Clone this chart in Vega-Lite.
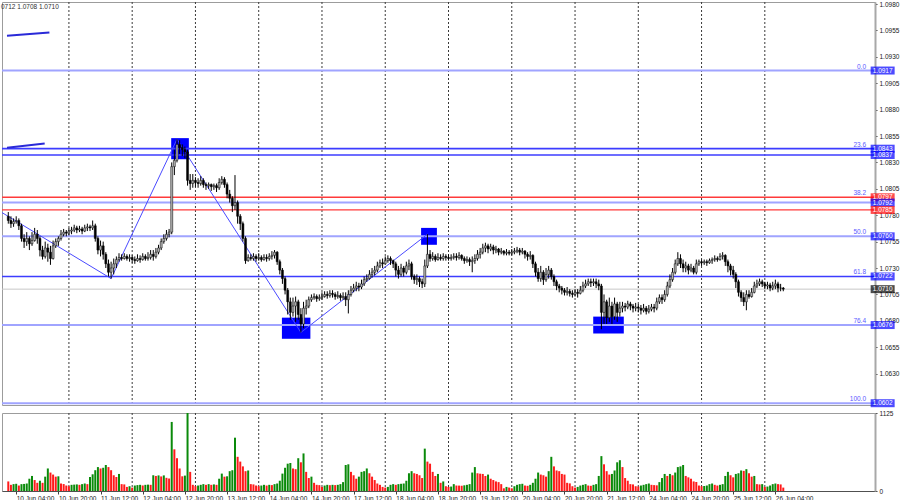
{
  "$schema": "https://vega.github.io/schema/vega-lite/v6.json",
  "padding": 0,
  "background": "white",
  "spacing": 1,
  "config": {
    "font": "Liberation Sans",
    "view": {"stroke": "#9c9c9c", "strokeWidth": 1},
    "axis": {"labelFontSize": 6.5, "labelColor": "#202020", "tickColor": "#404040", "tickSize": 2, "labelPadding": 2, "grid": false, "domainColor": "#a8a8a8", "labelOverlap": false}
  },
  "datasets": {
    "bars": [
      {"i":0,"o":1.0779,"h":1.0783,"l":1.0772,"c":1.0775,"v":138},
      {"i":1,"o":1.0775,"h":1.0779,"l":1.0768,"c":1.0772,"v":89},
      {"i":2,"o":1.0772,"h":1.0777,"l":1.0769,"c":1.0774,"v":99},
      {"i":3,"o":1.0774,"h":1.0779,"l":1.0772,"c":1.0775,"v":104},
      {"i":4,"o":1.0775,"h":1.0777,"l":1.0766,"c":1.0770,"v":79},
      {"i":5,"o":1.0770,"h":1.0772,"l":1.0755,"c":1.0758,"v":99},
      {"i":6,"o":1.0758,"h":1.0762,"l":1.0749,"c":1.0755,"v":102},
      {"i":7,"o":1.0755,"h":1.0764,"l":1.0751,"c":1.0758,"v":108},
      {"i":8,"o":1.0758,"h":1.0760,"l":1.0747,"c":1.0753,"v":177},
      {"i":9,"o":1.0753,"h":1.0764,"l":1.0751,"c":1.0756,"v":217},
      {"i":10,"o":1.0756,"h":1.0768,"l":1.0755,"c":1.0762,"v":158},
      {"i":11,"o":1.0762,"h":1.0766,"l":1.0753,"c":1.0758,"v":118},
      {"i":12,"o":1.0758,"h":1.0760,"l":1.0741,"c":1.0747,"v":148},
      {"i":13,"o":1.0747,"h":1.0751,"l":1.0738,"c":1.0741,"v":118},
      {"i":14,"o":1.0741,"h":1.0755,"l":1.0739,"c":1.0749,"v":207},
      {"i":15,"o":1.0749,"h":1.0753,"l":1.0736,"c":1.0745,"v":325},
      {"i":16,"o":1.0745,"h":1.0751,"l":1.0733,"c":1.0739,"v":266},
      {"i":17,"o":1.0739,"h":1.0756,"l":1.0738,"c":1.0751,"v":237},
      {"i":18,"o":1.0751,"h":1.0758,"l":1.0749,"c":1.0755,"v":207},
      {"i":19,"o":1.0755,"h":1.0760,"l":1.0751,"c":1.0758,"v":212},
      {"i":20,"o":1.0758,"h":1.0766,"l":1.0756,"c":1.0762,"v":108},
      {"i":21,"o":1.0762,"h":1.0767,"l":1.0760,"c":1.0764,"v":100},
      {"i":22,"o":1.0764,"h":1.0766,"l":1.0760,"c":1.0763,"v":79},
      {"i":23,"o":1.0763,"h":1.0768,"l":1.0761,"c":1.0765,"v":69},
      {"i":24,"o":1.0765,"h":1.0769,"l":1.0762,"c":1.0766,"v":89},
      {"i":25,"o":1.0766,"h":1.0771,"l":1.0764,"c":1.0768,"v":92},
      {"i":26,"o":1.0768,"h":1.0770,"l":1.0763,"c":1.0766,"v":95},
      {"i":27,"o":1.0766,"h":1.0770,"l":1.0764,"c":1.0767,"v":89},
      {"i":28,"o":1.0767,"h":1.0769,"l":1.0762,"c":1.0765,"v":99},
      {"i":29,"o":1.0765,"h":1.0771,"l":1.0764,"c":1.0768,"v":108},
      {"i":30,"o":1.0768,"h":1.0772,"l":1.0765,"c":1.0769,"v":99},
      {"i":31,"o":1.0769,"h":1.0771,"l":1.0765,"c":1.0768,"v":202},
      {"i":32,"o":1.0768,"h":1.0775,"l":1.0766,"c":1.0770,"v":241},
      {"i":33,"o":1.0770,"h":1.0772,"l":1.0755,"c":1.0758,"v":300},
      {"i":34,"o":1.0758,"h":1.0760,"l":1.0743,"c":1.0747,"v":345},
      {"i":35,"o":1.0747,"h":1.0756,"l":1.0741,"c":1.0751,"v":325},
      {"i":36,"o":1.0751,"h":1.0755,"l":1.0738,"c":1.0743,"v":335},
      {"i":37,"o":1.0743,"h":1.0745,"l":1.0730,"c":1.0734,"v":375},
      {"i":38,"o":1.0734,"h":1.0738,"l":1.0722,"c":1.0726,"v":345},
      {"i":39,"o":1.0726,"h":1.0736,"l":1.0720,"c":1.0730,"v":300},
      {"i":40,"o":1.0730,"h":1.0739,"l":1.0724,"c":1.0734,"v":227},
      {"i":41,"o":1.0734,"h":1.0741,"l":1.0730,"c":1.0738,"v":202},
      {"i":42,"o":1.0738,"h":1.0744,"l":1.0736,"c":1.0740,"v":246},
      {"i":43,"o":1.0740,"h":1.0743,"l":1.0737,"c":1.0739,"v":99},
      {"i":44,"o":1.0739,"h":1.0744,"l":1.0738,"c":1.0741,"v":95},
      {"i":45,"o":1.0741,"h":1.0743,"l":1.0737,"c":1.0739,"v":59},
      {"i":46,"o":1.0739,"h":1.0743,"l":1.0736,"c":1.0740,"v":69},
      {"i":47,"o":1.0740,"h":1.0742,"l":1.0735,"c":1.0738,"v":49},
      {"i":48,"o":1.0738,"h":1.0741,"l":1.0734,"c":1.0737,"v":79},
      {"i":49,"o":1.0737,"h":1.0743,"l":1.0736,"c":1.0739,"v":85},
      {"i":50,"o":1.0739,"h":1.0742,"l":1.0735,"c":1.0738,"v":89},
      {"i":51,"o":1.0738,"h":1.0744,"l":1.0737,"c":1.0741,"v":80},
      {"i":52,"o":1.0741,"h":1.0743,"l":1.0737,"c":1.0739,"v":89},
      {"i":53,"o":1.0739,"h":1.0745,"l":1.0737,"c":1.0740,"v":92},
      {"i":54,"o":1.0740,"h":1.0747,"l":1.0738,"c":1.0743,"v":89},
      {"i":55,"o":1.0743,"h":1.0747,"l":1.0737,"c":1.0741,"v":227},
      {"i":56,"o":1.0741,"h":1.0749,"l":1.0739,"c":1.0745,"v":217},
      {"i":57,"o":1.0745,"h":1.0752,"l":1.0743,"c":1.0749,"v":225},
      {"i":58,"o":1.0749,"h":1.0758,"l":1.0747,"c":1.0755,"v":210},
      {"i":59,"o":1.0755,"h":1.0762,"l":1.0753,"c":1.0758,"v":225},
      {"i":60,"o":1.0758,"h":1.0766,"l":1.0756,"c":1.0762,"v":190},
      {"i":61,"o":1.0762,"h":1.0767,"l":1.0759,"c":1.0764,"v":180},
      {"i":62,"o":1.0764,"h":1.0830,"l":1.0762,"c":1.0826,"v":996},
      {"i":63,"o":1.0826,"h":1.0842,"l":1.0818,"c":1.0832,"v":601},
      {"i":64,"o":1.0832,"h":1.0852,"l":1.0830,"c":1.0847,"v":473},
      {"i":65,"o":1.0847,"h":1.0851,"l":1.0838,"c":1.0844,"v":325},
      {"i":66,"o":1.0844,"h":1.0847,"l":1.0836,"c":1.0842,"v":212},
      {"i":67,"o":1.0842,"h":1.0845,"l":1.0834,"c":1.0840,"v":222},
      {"i":68,"o":1.0840,"h":1.0842,"l":1.0808,"c":1.0813,"v":1125},
      {"i":69,"o":1.0813,"h":1.0819,"l":1.0804,"c":1.0810,"v":276},
      {"i":70,"o":1.0810,"h":1.0819,"l":1.0806,"c":1.0813,"v":89},
      {"i":71,"o":1.0813,"h":1.0816,"l":1.0807,"c":1.0811,"v":69},
      {"i":72,"o":1.0811,"h":1.0815,"l":1.0806,"c":1.0810,"v":79},
      {"i":73,"o":1.0810,"h":1.0817,"l":1.0808,"c":1.0813,"v":89},
      {"i":74,"o":1.0813,"h":1.0815,"l":1.0806,"c":1.0809,"v":99},
      {"i":75,"o":1.0809,"h":1.0811,"l":1.0804,"c":1.0808,"v":89},
      {"i":76,"o":1.0808,"h":1.0811,"l":1.0805,"c":1.0809,"v":99},
      {"i":77,"o":1.0809,"h":1.0810,"l":1.0803,"c":1.0807,"v":89},
      {"i":78,"o":1.0807,"h":1.0810,"l":1.0804,"c":1.0808,"v":95},
      {"i":79,"o":1.0808,"h":1.0810,"l":1.0802,"c":1.0806,"v":89},
      {"i":80,"o":1.0806,"h":1.0815,"l":1.0804,"c":1.0811,"v":177},
      {"i":81,"o":1.0811,"h":1.0817,"l":1.0809,"c":1.0814,"v":251},
      {"i":82,"o":1.0814,"h":1.0816,"l":1.0806,"c":1.0809,"v":207},
      {"i":83,"o":1.0809,"h":1.0811,"l":1.0796,"c":1.0800,"v":212},
      {"i":84,"o":1.0800,"h":1.0804,"l":1.0792,"c":1.0796,"v":286},
      {"i":85,"o":1.0796,"h":1.0798,"l":1.0783,"c":1.0789,"v":300},
      {"i":86,"o":1.0789,"h":1.0818,"l":1.0785,"c":1.0792,"v":769},
      {"i":87,"o":1.0792,"h":1.0794,"l":1.0772,"c":1.0779,"v":493},
      {"i":88,"o":1.0779,"h":1.0781,"l":1.0766,"c":1.0772,"v":424},
      {"i":89,"o":1.0772,"h":1.0774,"l":1.0755,"c":1.0758,"v":355},
      {"i":90,"o":1.0758,"h":1.0760,"l":1.0734,"c":1.0737,"v":286},
      {"i":91,"o":1.0737,"h":1.0743,"l":1.0736,"c":1.0740,"v":296},
      {"i":92,"o":1.0740,"h":1.0743,"l":1.0737,"c":1.0739,"v":99},
      {"i":93,"o":1.0739,"h":1.0744,"l":1.0737,"c":1.0741,"v":95},
      {"i":94,"o":1.0741,"h":1.0743,"l":1.0736,"c":1.0739,"v":79},
      {"i":95,"o":1.0739,"h":1.0744,"l":1.0737,"c":1.0740,"v":69},
      {"i":96,"o":1.0740,"h":1.0742,"l":1.0736,"c":1.0738,"v":79},
      {"i":97,"o":1.0738,"h":1.0743,"l":1.0737,"c":1.0740,"v":89},
      {"i":98,"o":1.0740,"h":1.0743,"l":1.0736,"c":1.0739,"v":79},
      {"i":99,"o":1.0739,"h":1.0744,"l":1.0737,"c":1.0741,"v":89},
      {"i":100,"o":1.0741,"h":1.0746,"l":1.0738,"c":1.0742,"v":85},
      {"i":101,"o":1.0742,"h":1.0747,"l":1.0739,"c":1.0745,"v":99},
      {"i":102,"o":1.0745,"h":1.0746,"l":1.0733,"c":1.0736,"v":108},
      {"i":103,"o":1.0736,"h":1.0738,"l":1.0724,"c":1.0728,"v":148},
      {"i":104,"o":1.0728,"h":1.0730,"l":1.0715,"c":1.0720,"v":251},
      {"i":105,"o":1.0720,"h":1.0722,"l":1.0705,"c":1.0709,"v":335},
      {"i":106,"o":1.0709,"h":1.0711,"l":1.0686,"c":1.0698,"v":394},
      {"i":107,"o":1.0698,"h":1.0702,"l":1.0681,"c":1.0688,"v":404},
      {"i":108,"o":1.0688,"h":1.0702,"l":1.0684,"c":1.0694,"v":325},
      {"i":109,"o":1.0694,"h":1.0703,"l":1.0679,"c":1.0698,"v":315},
      {"i":110,"o":1.0698,"h":1.0700,"l":1.0681,"c":1.0686,"v":473},
      {"i":111,"o":1.0686,"h":1.0692,"l":1.0669,"c":1.0677,"v":414},
      {"i":112,"o":1.0677,"h":1.0698,"l":1.0673,"c":1.0692,"v":542},
      {"i":113,"o":1.0692,"h":1.0700,"l":1.0686,"c":1.0694,"v":276},
      {"i":114,"o":1.0694,"h":1.0703,"l":1.0692,"c":1.0700,"v":187},
      {"i":115,"o":1.0700,"h":1.0705,"l":1.0698,"c":1.0702,"v":207},
      {"i":116,"o":1.0702,"h":1.0706,"l":1.0700,"c":1.0703,"v":118},
      {"i":117,"o":1.0703,"h":1.0705,"l":1.0698,"c":1.0701,"v":89},
      {"i":118,"o":1.0701,"h":1.0705,"l":1.0699,"c":1.0702,"v":85},
      {"i":119,"o":1.0702,"h":1.0707,"l":1.0700,"c":1.0703,"v":59},
      {"i":120,"o":1.0703,"h":1.0708,"l":1.0702,"c":1.0705,"v":79},
      {"i":121,"o":1.0705,"h":1.0708,"l":1.0701,"c":1.0704,"v":89},
      {"i":122,"o":1.0704,"h":1.0709,"l":1.0702,"c":1.0706,"v":84},
      {"i":123,"o":1.0706,"h":1.0709,"l":1.0702,"c":1.0705,"v":89},
      {"i":124,"o":1.0705,"h":1.0707,"l":1.0700,"c":1.0703,"v":85},
      {"i":125,"o":1.0703,"h":1.0708,"l":1.0701,"c":1.0704,"v":89},
      {"i":126,"o":1.0704,"h":1.0706,"l":1.0699,"c":1.0702,"v":99},
      {"i":127,"o":1.0702,"h":1.0707,"l":1.0700,"c":1.0703,"v":128},
      {"i":128,"o":1.0703,"h":1.0707,"l":1.0694,"c":1.0700,"v":375},
      {"i":129,"o":1.0700,"h":1.0709,"l":1.0687,"c":1.0705,"v":385},
      {"i":130,"o":1.0705,"h":1.0713,"l":1.0703,"c":1.0709,"v":276},
      {"i":131,"o":1.0709,"h":1.0715,"l":1.0707,"c":1.0711,"v":227},
      {"i":132,"o":1.0711,"h":1.0717,"l":1.0708,"c":1.0713,"v":177},
      {"i":133,"o":1.0713,"h":1.0716,"l":1.0708,"c":1.0712,"v":207},
      {"i":134,"o":1.0712,"h":1.0719,"l":1.0710,"c":1.0715,"v":276},
      {"i":135,"o":1.0715,"h":1.0722,"l":1.0713,"c":1.0719,"v":286},
      {"i":136,"o":1.0719,"h":1.0724,"l":1.0717,"c":1.0720,"v":325},
      {"i":137,"o":1.0720,"h":1.0728,"l":1.0719,"c":1.0724,"v":256},
      {"i":138,"o":1.0724,"h":1.0730,"l":1.0721,"c":1.0726,"v":207},
      {"i":139,"o":1.0726,"h":1.0732,"l":1.0723,"c":1.0728,"v":158},
      {"i":140,"o":1.0728,"h":1.0736,"l":1.0726,"c":1.0732,"v":108},
      {"i":141,"o":1.0732,"h":1.0738,"l":1.0730,"c":1.0735,"v":89},
      {"i":142,"o":1.0735,"h":1.0739,"l":1.0730,"c":1.0734,"v":59},
      {"i":143,"o":1.0734,"h":1.0741,"l":1.0733,"c":1.0737,"v":49},
      {"i":144,"o":1.0737,"h":1.0742,"l":1.0735,"c":1.0739,"v":59},
      {"i":145,"o":1.0739,"h":1.0741,"l":1.0733,"c":1.0737,"v":89},
      {"i":146,"o":1.0737,"h":1.0738,"l":1.0730,"c":1.0734,"v":99},
      {"i":147,"o":1.0734,"h":1.0736,"l":1.0722,"c":1.0728,"v":89},
      {"i":148,"o":1.0728,"h":1.0732,"l":1.0720,"c":1.0724,"v":99},
      {"i":149,"o":1.0724,"h":1.0734,"l":1.0722,"c":1.0730,"v":104},
      {"i":150,"o":1.0730,"h":1.0732,"l":1.0722,"c":1.0726,"v":108},
      {"i":151,"o":1.0726,"h":1.0736,"l":1.0724,"c":1.0732,"v":148},
      {"i":152,"o":1.0732,"h":1.0738,"l":1.0728,"c":1.0734,"v":256},
      {"i":153,"o":1.0734,"h":1.0736,"l":1.0719,"c":1.0722,"v":286},
      {"i":154,"o":1.0722,"h":1.0724,"l":1.0715,"c":1.0719,"v":256},
      {"i":155,"o":1.0719,"h":1.0724,"l":1.0714,"c":1.0720,"v":246},
      {"i":156,"o":1.0720,"h":1.0722,"l":1.0712,"c":1.0717,"v":227},
      {"i":157,"o":1.0717,"h":1.0720,"l":1.0711,"c":1.0715,"v":187},
      {"i":158,"o":1.0715,"h":1.0738,"l":1.0712,"c":1.0732,"v":611},
      {"i":159,"o":1.0732,"h":1.0762,"l":1.0730,"c":1.0743,"v":424},
      {"i":160,"o":1.0743,"h":1.0747,"l":1.0736,"c":1.0739,"v":394},
      {"i":161,"o":1.0739,"h":1.0745,"l":1.0737,"c":1.0741,"v":276},
      {"i":162,"o":1.0741,"h":1.0743,"l":1.0736,"c":1.0738,"v":217},
      {"i":163,"o":1.0738,"h":1.0744,"l":1.0737,"c":1.0740,"v":246},
      {"i":164,"o":1.0740,"h":1.0743,"l":1.0737,"c":1.0739,"v":118},
      {"i":165,"o":1.0739,"h":1.0744,"l":1.0737,"c":1.0741,"v":138},
      {"i":166,"o":1.0741,"h":1.0743,"l":1.0737,"c":1.0740,"v":69},
      {"i":167,"o":1.0740,"h":1.0743,"l":1.0737,"c":1.0739,"v":59},
      {"i":168,"o":1.0739,"h":1.0743,"l":1.0737,"c":1.0740,"v":64},
      {"i":169,"o":1.0740,"h":1.0744,"l":1.0738,"c":1.0741,"v":99},
      {"i":170,"o":1.0741,"h":1.0744,"l":1.0737,"c":1.0740,"v":79},
      {"i":171,"o":1.0740,"h":1.0745,"l":1.0738,"c":1.0742,"v":78},
      {"i":172,"o":1.0742,"h":1.0743,"l":1.0737,"c":1.0739,"v":76},
      {"i":173,"o":1.0739,"h":1.0741,"l":1.0734,"c":1.0737,"v":82},
      {"i":174,"o":1.0737,"h":1.0741,"l":1.0735,"c":1.0738,"v":89},
      {"i":175,"o":1.0738,"h":1.0740,"l":1.0732,"c":1.0736,"v":99},
      {"i":176,"o":1.0736,"h":1.0741,"l":1.0726,"c":1.0737,"v":266},
      {"i":177,"o":1.0737,"h":1.0743,"l":1.0734,"c":1.0739,"v":345},
      {"i":178,"o":1.0739,"h":1.0747,"l":1.0737,"c":1.0743,"v":256},
      {"i":179,"o":1.0743,"h":1.0749,"l":1.0739,"c":1.0745,"v":250},
      {"i":180,"o":1.0745,"h":1.0753,"l":1.0743,"c":1.0749,"v":246},
      {"i":181,"o":1.0749,"h":1.0754,"l":1.0745,"c":1.0751,"v":217},
      {"i":182,"o":1.0751,"h":1.0753,"l":1.0744,"c":1.0748,"v":237},
      {"i":183,"o":1.0748,"h":1.0753,"l":1.0746,"c":1.0750,"v":177},
      {"i":184,"o":1.0750,"h":1.0752,"l":1.0743,"c":1.0747,"v":158},
      {"i":185,"o":1.0747,"h":1.0751,"l":1.0744,"c":1.0748,"v":138},
      {"i":186,"o":1.0748,"h":1.0749,"l":1.0742,"c":1.0745,"v":128},
      {"i":187,"o":1.0745,"h":1.0749,"l":1.0743,"c":1.0746,"v":99},
      {"i":188,"o":1.0746,"h":1.0747,"l":1.0742,"c":1.0744,"v":39},
      {"i":189,"o":1.0744,"h":1.0748,"l":1.0742,"c":1.0745,"v":59},
      {"i":190,"o":1.0745,"h":1.0747,"l":1.0742,"c":1.0744,"v":49},
      {"i":191,"o":1.0744,"h":1.0748,"l":1.0742,"c":1.0745,"v":39},
      {"i":192,"o":1.0745,"h":1.0749,"l":1.0743,"c":1.0746,"v":69},
      {"i":193,"o":1.0746,"h":1.0750,"l":1.0744,"c":1.0747,"v":89},
      {"i":194,"o":1.0747,"h":1.0749,"l":1.0742,"c":1.0745,"v":99},
      {"i":195,"o":1.0745,"h":1.0749,"l":1.0743,"c":1.0746,"v":104},
      {"i":196,"o":1.0746,"h":1.0747,"l":1.0739,"c":1.0743,"v":79},
      {"i":197,"o":1.0743,"h":1.0745,"l":1.0737,"c":1.0741,"v":75},
      {"i":198,"o":1.0741,"h":1.0746,"l":1.0738,"c":1.0742,"v":89},
      {"i":199,"o":1.0742,"h":1.0743,"l":1.0730,"c":1.0734,"v":118},
      {"i":200,"o":1.0734,"h":1.0736,"l":1.0722,"c":1.0726,"v":177},
      {"i":201,"o":1.0726,"h":1.0730,"l":1.0717,"c":1.0720,"v":266},
      {"i":202,"o":1.0720,"h":1.0732,"l":1.0717,"c":1.0726,"v":237},
      {"i":203,"o":1.0726,"h":1.0728,"l":1.0714,"c":1.0719,"v":227},
      {"i":204,"o":1.0719,"h":1.0730,"l":1.0717,"c":1.0724,"v":207},
      {"i":205,"o":1.0724,"h":1.0732,"l":1.0720,"c":1.0728,"v":286},
      {"i":206,"o":1.0728,"h":1.0730,"l":1.0719,"c":1.0722,"v":493},
      {"i":207,"o":1.0722,"h":1.0724,"l":1.0713,"c":1.0717,"v":355},
      {"i":208,"o":1.0717,"h":1.0719,"l":1.0709,"c":1.0713,"v":296},
      {"i":209,"o":1.0713,"h":1.0715,"l":1.0707,"c":1.0711,"v":286},
      {"i":210,"o":1.0711,"h":1.0713,"l":1.0705,"c":1.0709,"v":246},
      {"i":211,"o":1.0709,"h":1.0711,"l":1.0704,"c":1.0707,"v":237},
      {"i":212,"o":1.0707,"h":1.0712,"l":1.0704,"c":1.0708,"v":118},
      {"i":213,"o":1.0708,"h":1.0710,"l":1.0703,"c":1.0706,"v":110},
      {"i":214,"o":1.0706,"h":1.0709,"l":1.0702,"c":1.0705,"v":69},
      {"i":215,"o":1.0705,"h":1.0710,"l":1.0703,"c":1.0707,"v":49},
      {"i":216,"o":1.0707,"h":1.0710,"l":1.0702,"c":1.0706,"v":59},
      {"i":217,"o":1.0706,"h":1.0713,"l":1.0705,"c":1.0709,"v":79},
      {"i":218,"o":1.0709,"h":1.0717,"l":1.0707,"c":1.0713,"v":89},
      {"i":219,"o":1.0713,"h":1.0719,"l":1.0711,"c":1.0715,"v":99},
      {"i":220,"o":1.0715,"h":1.0720,"l":1.0713,"c":1.0717,"v":79},
      {"i":221,"o":1.0717,"h":1.0720,"l":1.0712,"c":1.0716,"v":75},
      {"i":222,"o":1.0716,"h":1.0720,"l":1.0713,"c":1.0717,"v":89},
      {"i":223,"o":1.0717,"h":1.0720,"l":1.0711,"c":1.0715,"v":99},
      {"i":224,"o":1.0715,"h":1.0719,"l":1.0709,"c":1.0713,"v":217},
      {"i":225,"o":1.0713,"h":1.0715,"l":1.0672,"c":1.0688,"v":503},
      {"i":226,"o":1.0688,"h":1.0705,"l":1.0677,"c":1.0698,"v":385},
      {"i":227,"o":1.0698,"h":1.0700,"l":1.0677,"c":1.0683,"v":286},
      {"i":228,"o":1.0683,"h":1.0702,"l":1.0679,"c":1.0694,"v":237},
      {"i":229,"o":1.0694,"h":1.0698,"l":1.0677,"c":1.0684,"v":246},
      {"i":230,"o":1.0684,"h":1.0702,"l":1.0681,"c":1.0696,"v":296},
      {"i":231,"o":1.0696,"h":1.0698,"l":1.0679,"c":1.0688,"v":414},
      {"i":232,"o":1.0688,"h":1.0698,"l":1.0684,"c":1.0692,"v":444},
      {"i":233,"o":1.0692,"h":1.0698,"l":1.0688,"c":1.0694,"v":345},
      {"i":234,"o":1.0694,"h":1.0697,"l":1.0689,"c":1.0693,"v":187},
      {"i":235,"o":1.0693,"h":1.0699,"l":1.0691,"c":1.0696,"v":148},
      {"i":236,"o":1.0696,"h":1.0698,"l":1.0690,"c":1.0694,"v":99},
      {"i":237,"o":1.0694,"h":1.0696,"l":1.0688,"c":1.0692,"v":95},
      {"i":238,"o":1.0692,"h":1.0697,"l":1.0689,"c":1.0693,"v":69},
      {"i":239,"o":1.0693,"h":1.0696,"l":1.0688,"c":1.0692,"v":65},
      {"i":240,"o":1.0692,"h":1.0695,"l":1.0686,"c":1.0690,"v":79},
      {"i":241,"o":1.0690,"h":1.0696,"l":1.0688,"c":1.0692,"v":89},
      {"i":242,"o":1.0692,"h":1.0694,"l":1.0686,"c":1.0689,"v":99},
      {"i":243,"o":1.0689,"h":1.0695,"l":1.0687,"c":1.0691,"v":108},
      {"i":244,"o":1.0691,"h":1.0696,"l":1.0689,"c":1.0693,"v":89},
      {"i":245,"o":1.0693,"h":1.0696,"l":1.0688,"c":1.0692,"v":85},
      {"i":246,"o":1.0692,"h":1.0702,"l":1.0690,"c":1.0698,"v":82},
      {"i":247,"o":1.0698,"h":1.0705,"l":1.0696,"c":1.0702,"v":128},
      {"i":248,"o":1.0702,"h":1.0705,"l":1.0696,"c":1.0700,"v":187},
      {"i":249,"o":1.0700,"h":1.0709,"l":1.0698,"c":1.0705,"v":246},
      {"i":250,"o":1.0705,"h":1.0717,"l":1.0703,"c":1.0713,"v":217},
      {"i":251,"o":1.0713,"h":1.0724,"l":1.0711,"c":1.0719,"v":246},
      {"i":252,"o":1.0719,"h":1.0730,"l":1.0717,"c":1.0726,"v":227},
      {"i":253,"o":1.0726,"h":1.0738,"l":1.0724,"c":1.0734,"v":266},
      {"i":254,"o":1.0734,"h":1.0745,"l":1.0732,"c":1.0739,"v":345},
      {"i":255,"o":1.0739,"h":1.0743,"l":1.0730,"c":1.0734,"v":355},
      {"i":256,"o":1.0734,"h":1.0738,"l":1.0726,"c":1.0730,"v":375},
      {"i":257,"o":1.0730,"h":1.0736,"l":1.0726,"c":1.0732,"v":217},
      {"i":258,"o":1.0732,"h":1.0734,"l":1.0724,"c":1.0728,"v":197},
      {"i":259,"o":1.0728,"h":1.0734,"l":1.0726,"c":1.0730,"v":177},
      {"i":260,"o":1.0730,"h":1.0732,"l":1.0724,"c":1.0726,"v":138},
      {"i":261,"o":1.0726,"h":1.0738,"l":1.0724,"c":1.0734,"v":130},
      {"i":262,"o":1.0734,"h":1.0738,"l":1.0732,"c":1.0736,"v":79},
      {"i":263,"o":1.0736,"h":1.0738,"l":1.0732,"c":1.0735,"v":69},
      {"i":264,"o":1.0735,"h":1.0738,"l":1.0733,"c":1.0736,"v":72},
      {"i":265,"o":1.0736,"h":1.0738,"l":1.0732,"c":1.0735,"v":79},
      {"i":266,"o":1.0735,"h":1.0739,"l":1.0734,"c":1.0737,"v":99},
      {"i":267,"o":1.0737,"h":1.0740,"l":1.0734,"c":1.0738,"v":108},
      {"i":268,"o":1.0738,"h":1.0742,"l":1.0736,"c":1.0739,"v":89},
      {"i":269,"o":1.0739,"h":1.0741,"l":1.0736,"c":1.0738,"v":79},
      {"i":270,"o":1.0738,"h":1.0744,"l":1.0737,"c":1.0741,"v":89},
      {"i":271,"o":1.0741,"h":1.0745,"l":1.0738,"c":1.0742,"v":99},
      {"i":272,"o":1.0742,"h":1.0743,"l":1.0732,"c":1.0736,"v":217},
      {"i":273,"o":1.0736,"h":1.0738,"l":1.0726,"c":1.0732,"v":276},
      {"i":274,"o":1.0732,"h":1.0734,"l":1.0723,"c":1.0728,"v":227},
      {"i":275,"o":1.0728,"h":1.0732,"l":1.0720,"c":1.0724,"v":197},
      {"i":276,"o":1.0724,"h":1.0726,"l":1.0711,"c":1.0717,"v":246},
      {"i":277,"o":1.0717,"h":1.0719,"l":1.0703,"c":1.0707,"v":256},
      {"i":278,"o":1.0707,"h":1.0709,"l":1.0698,"c":1.0702,"v":296},
      {"i":279,"o":1.0702,"h":1.0707,"l":1.0694,"c":1.0698,"v":290},
      {"i":280,"o":1.0698,"h":1.0709,"l":1.0690,"c":1.0705,"v":315},
      {"i":281,"o":1.0705,"h":1.0709,"l":1.0701,"c":1.0703,"v":256},
      {"i":282,"o":1.0703,"h":1.0711,"l":1.0702,"c":1.0707,"v":207},
      {"i":283,"o":1.0707,"h":1.0717,"l":1.0706,"c":1.0713,"v":217},
      {"i":284,"o":1.0713,"h":1.0719,"l":1.0711,"c":1.0715,"v":99},
      {"i":285,"o":1.0715,"h":1.0720,"l":1.0713,"c":1.0717,"v":95},
      {"i":286,"o":1.0717,"h":1.0719,"l":1.0712,"c":1.0715,"v":99},
      {"i":287,"o":1.0715,"h":1.0717,"l":1.0710,"c":1.0713,"v":59},
      {"i":288,"o":1.0713,"h":1.0717,"l":1.0710,"c":1.0714,"v":64},
      {"i":289,"o":1.0714,"h":1.0716,"l":1.0708,"c":1.0711,"v":79},
      {"i":290,"o":1.0711,"h":1.0717,"l":1.0709,"c":1.0713,"v":99},
      {"i":291,"o":1.0713,"h":1.0719,"l":1.0710,"c":1.0715,"v":108},
      {"i":292,"o":1.0715,"h":1.0717,"l":1.0707,"c":1.0711,"v":99},
      {"i":293,"o":1.0711,"h":1.0715,"l":1.0708,"c":1.0711,"v":95},
      {"i":294,"o":1.0711,"h":1.0712,"l":1.0708,"c":1.0710,"v":49}
    ],
    "days": [{"g":23},{"g":47},{"g":71},{"g":95},{"g":119},{"g":143},{"g":167},{"g":191},{"g":215},{"g":239},{"g":263},{"g":287}],
    "levels": [
      {"p":1.0917,"k":"fib","f":"0.0"},
      {"p":1.0843,"k":"blue","f":"23.6"},
      {"p":1.0837,"k":"blue"},
      {"p":1.0797,"k":"red","f":"38.2"},
      {"p":1.0792,"k":"fib"},
      {"p":1.0785,"k":"red"},
      {"p":1.0760,"k":"fib","f":"50.0"},
      {"p":1.0722,"k":"blue","f":"61.8"},
      {"p":1.0710,"k":"bid"},
      {"p":1.0676,"k":"fib","f":"76.4"},
      {"p":1.0602,"k":"fib","f":"100.0"}
    ],
    "zig": [
      {"i":-10,"p":1.0794},
      {"i":39,"p":1.0720},
      {"i":64,"p":1.0852},
      {"i":111,"p":1.0669},
      {"i":159,"p":1.0762}
    ],
    "segs": [
      {"s":"a","i":-0.49,"p":1.0950},
      {"s":"a","i":15.6,"p":1.0953},
      {"s":"b","i":-0.49,"p":1.0844},
      {"s":"b","i":13.8,"p":1.0848}
    ],
    "zones": [
      {"x1":61.8,"x2":68.5,"p1":1.0853,"p2":1.0833},
      {"x1":103.8,"x2":114.6,"p1":1.0683,"p2":1.0663},
      {"x1":156.6,"x2":162.6,"p1":1.0768,"p2":1.0752},
      {"x1":221.9,"x2":233.5,"p1":1.0684,"p2":1.0668}
    ]
  },
  "vconcat": [
    {
      "width": 873,
      "height": 403,
      "title": {"text": "0712 1.0708 1.0710", "anchor": "start", "offset": -9, "fontSize": 6.5, "fontWeight": "normal", "color": "#303030", "font": "Liberation Sans"},
      "resolve": {"scale": {"color": "independent", "strokeWidth": "independent"}},
      "layer": [
        {
          "data": {"name": "days"},
          "mark": {"type": "rule", "color": "#3a3a3a", "strokeDash": [2, 2], "strokeWidth": 1},
          "encoding": {
            "x": {"field": "g", "type": "quantitative", "scale": {"domain": [-0.49, 326.9], "nice": false, "zero": false}, "axis": null}
          }
        },
        {
          "data": {"name": "zones"},
          "mark": {"type": "rect", "color": "#0000ff"},
          "encoding": {
            "x": {"field": "x1", "type": "quantitative"},
            "x2": {"field": "x2"},
            "y": {"field": "p1", "type": "quantitative", "scale": {"domain": [1.06003, 1.09819], "nice": false, "zero": false},
              "axis": {"orient": "right", "title": null, "values": [1.098, 1.0955, 1.093, 1.0905, 1.088, 1.0855, 1.083, 1.0805, 1.078, 1.0755, 1.073, 1.0705, 1.068, 1.0655, 1.063], "tickCount": 40, "format": ".4f", "domainWidth": 2, "labelOverlap": false, "labelFlush": false}},
            "y2": {"field": "p2"}
          }
        },
        {
          "data": {"name": "levels"},
          "mark": {"type": "rule"},
          "encoding": {
            "y": {"field": "p", "type": "quantitative"},
            "color": {"field": "k", "type": "nominal", "legend": null, "scale": {"domain": ["fib", "blue", "red", "bid"], "range": ["#a0a4ff", "#3c3cff", "#ff3a3a", "#c8c8c8"]}},
            "strokeWidth": {"field": "k", "type": "nominal", "legend": null, "scale": {"domain": ["fib", "blue", "red", "bid"], "range": [2, 1, 1, 1]}}
          }
        },
        {
          "data": {"name": "segs"},
          "mark": {"type": "line", "color": "#2a2ad8", "strokeWidth": 2, "clip": true},
          "encoding": {
            "x": {"field": "i", "type": "quantitative"},
            "y": {"field": "p", "type": "quantitative"},
            "detail": {"field": "s"}
          }
        },
        {
          "data": {"name": "zig"},
          "mark": {"type": "line", "color": "#4a4aff", "strokeWidth": 1, "clip": true},
          "encoding": {
            "x": {"field": "i", "type": "quantitative"},
            "y": {"field": "p", "type": "quantitative"},
            "order": {"field": "i"}
          }
        },
        {
          "data": {"name": "bars"},
          "mark": {"type": "rule", "strokeWidth": 1, "color": "#000000"},
          "encoding": {
            "x": {"field": "i", "type": "quantitative"},
            "y": {"field": "l", "type": "quantitative"},
            "y2": {"field": "h"}
          }
        },
        {
          "data": {"name": "bars"},
          "mark": {"type": "bar", "size": 2, "stroke": "#000000", "strokeWidth": 0.5},
          "encoding": {
            "x": {"field": "i", "type": "quantitative"},
            "y": {"field": "o", "type": "quantitative"},
            "y2": {"field": "c"},
            "color": {"condition": {"test": "datum.c >= datum.o", "value": "#b4b4b4"}, "value": "#000000"}
          }
        },
        {
          "data": {"name": "levels"},
          "transform": [{"filter": "datum.f"}],
          "mark": {"type": "text", "align": "right", "baseline": "alphabetic", "dy": -2, "fontSize": 6.5, "color": "#5a5aff"},
          "encoding": {
            "x": {"datum": 325.4},
            "y": {"field": "p", "type": "quantitative"},
            "text": {"field": "f"}
          }
        },
        {
          "data": {"name": "levels"},
          "mark": {"type": "tick", "orient": "horizontal", "thickness": 8, "size": 24},
          "encoding": {
            "x": {"datum": 331.7},
            "y": {"field": "p", "type": "quantitative"},
            "color": {"field": "k", "type": "nominal", "legend": null, "scale": {"domain": ["fib", "blue", "red", "bid"], "range": ["#0000ff", "#0000ff", "#ff0000", "#000000"]}}
          }
        },
        {
          "data": {"name": "levels"},
          "mark": {"type": "text", "align": "center", "baseline": "middle", "fontSize": 6.5, "color": "#ffffff"},
          "encoding": {
            "x": {"datum": 331.7},
            "y": {"field": "p", "type": "quantitative"},
            "text": {"field": "p", "type": "quantitative", "format": ".4f"}
          }
        }
      ]
    },
    {
      "width": 873,
      "height": 78,
      "layer": [
        {
          "data": {"name": "days"},
          "mark": {"type": "rule", "color": "#3a3a3a", "strokeDash": [2, 2], "strokeWidth": 1},
          "encoding": {
            "x": {"field": "g", "type": "quantitative", "scale": {"domain": [-0.49, 326.9], "nice": false, "zero": false},
              "axis": {"orient": "bottom", "title": null, "values": [3, 19, 35, 51, 67, 83, 99, 115, 131, 147, 163, 179, 195, 211, 227, 243, 259, 275, 291], "tickCount": 40,
                "labelExpr": "['10 Jun 04:00','10 Jun 20:00','11 Jun 12:00','12 Jun 04:00','12 Jun 20:00','13 Jun 12:00','14 Jun 04:00','14 Jun 20:00','17 Jun 12:00','18 Jun 04:00','18 Jun 20:00','19 Jun 12:00','20 Jun 04:00','20 Jun 20:00','21 Jun 12:00','24 Jun 04:00','24 Jun 20:00','25 Jun 12:00','26 Jun 04:00'][(datum.value-3)/16]",
                "labelAlign": "left", "labelFlush": false, "labelOverlap": false, "tickSize": 3, "labelPadding": 1, "domainColor": "#505050"}}
          }
        },
        {
          "data": {"name": "bars"},
          "transform": [{"window": [{"op": "lag", "field": "v", "as": "pv"}], "sort": [{"field": "i"}]}],
          "mark": {"type": "bar", "size": 2},
          "encoding": {
            "x": {"field": "i", "type": "quantitative"},
            "y": {"field": "v", "type": "quantitative", "scale": {"domain": [0, 1125], "nice": false},
              "axis": {"orient": "right", "title": null, "values": [0, 1125], "format": "d", "domainWidth": 2, "labelFlush": false}},
            "color": {"condition": {"test": "datum.pv != null && datum.v > datum.pv", "value": "#0a8a0a"}, "value": "#ff1a1a"}
          }
        }
      ]
    }
  ]
}
